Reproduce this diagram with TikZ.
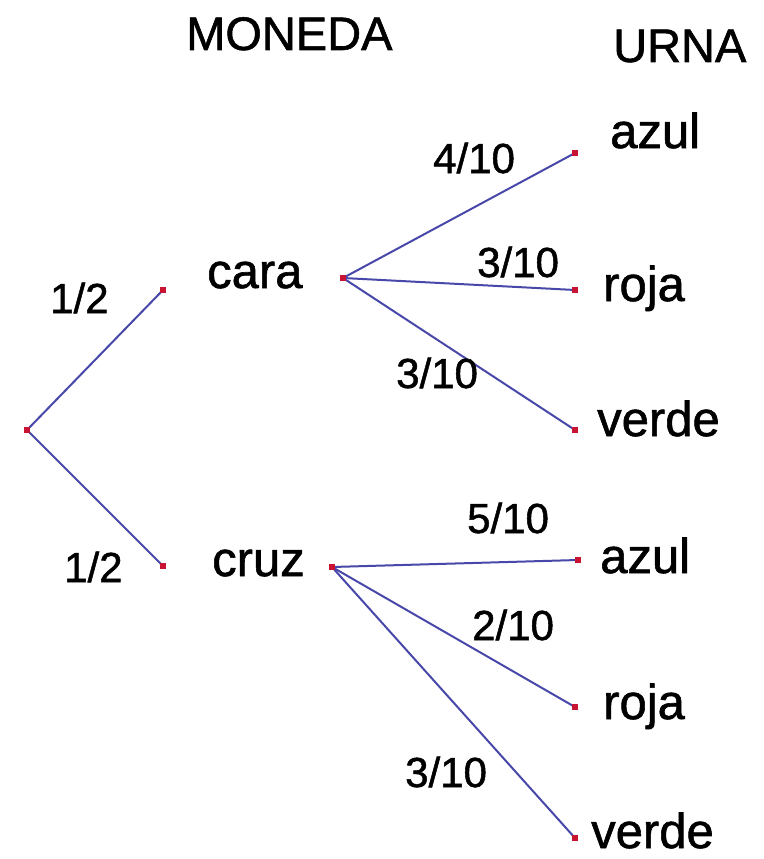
\documentclass[tikz,border=0pt]{standalone}
\usepackage{fontspec}
\setmainfont{Liberation Sans}[FakeBold=1.2]
\definecolor{branch}{RGB}{72,72,170}
\definecolor{dotred}{RGB}{200,20,50}
\begin{document}
\begin{tikzpicture}[x=1pt,y=-1pt,
  dot/.style={fill=dotred,draw=none,minimum size=6pt,inner sep=0pt,outer sep=0pt},
  branchline/.style={draw=branch,line width=2pt},
  word/.style={anchor=base west,inner sep=0pt,font=\fontsize{49}{58}\selectfont},
  head/.style={anchor=base west,inner sep=0pt,font=\fontsize{47}{56}\selectfont},
  prob/.style={anchor=base west,inner sep=0pt,font=\fontsize{42}{50}\selectfont}]
  \useasboundingbox[fill=white] (0,0) rectangle (763,859);

  % tree points
  \node[dot] (root) at (27,430) {};
  \node[dot] (cara) at (163,290) {};
  \node[dot] (cruz) at (163,566) {};
  \node[dot] (caraB) at (343,278) {};
  \node[dot] (cruzB) at (332,567) {};
  \node[dot] (az1) at (575,153) {};
  \node[dot] (ro1) at (575,290) {};
  \node[dot] (ve1) at (575,430) {};
  \node[dot] (az2) at (578,560) {};
  \node[dot] (ro2) at (575,707) {};
  \node[dot] (ve2) at (575,838) {};

  % branches
  \draw[branchline] (root.center) -- (cara.center);
  \draw[branchline] (root.center) -- (cruz.center);
  \draw[branchline] (caraB.center) -- (az1.center);
  \draw[branchline] (caraB.center) -- (ro1.center);
  \draw[branchline] (caraB.center) -- (ve1.center);
  \draw[branchline] (cruzB.center) -- (az2.center);
  \draw[branchline] (cruzB.center) -- (ro2.center);
  \draw[branchline] (cruzB.center) -- (ve2.center);

  % redraw dots on top of the lines
  \foreach \n in {root,cara,cruz,caraB,cruzB,az1,ro1,ve1,az2,ro2,ve2}
    \fill[dotred] ([shift={(-3,-3)}]\n.center) rectangle ([shift={(3,3)}]\n.center);

  % column headings
  \node[head] (hMoneda) at (186,50) {MONEDA};
  \node[head] (hUrna) at (613,62) {URNA};

  % outcomes
  \node[word] (tCara) at (207,288) {cara};
  \node[word] (tCruz) at (212,576) {cruz};
  \node[word] (tAz1) at (610,148) {azul};
  \node[word] (tRo1) at (603,301) {roja};
  \node[word] (tVe1) at (597,436) {verde};
  \node[word] (tAz2) at (600,573) {azul};
  \node[word] (tRo2) at (603,719) {roja};
  \node[word] (tVe2) at (591,848) {verde};

  % probabilities
  \node[prob] (p1) at (50,313) {1/2};
  \node[prob] (p2) at (64,582) {1/2};
  \node[prob] (p3) at (433,173) {4/10};
  \node[prob] (p4) at (477,277) {3/10};
  \node[prob] (p5) at (396,388) {3/10};
  \node[prob] (p6) at (467,533) {5/10};
  \node[prob] (p7) at (472,640) {2/10};
  \node[prob] (p8) at (405,787) {3/10};
\end{tikzpicture}
\end{document}
